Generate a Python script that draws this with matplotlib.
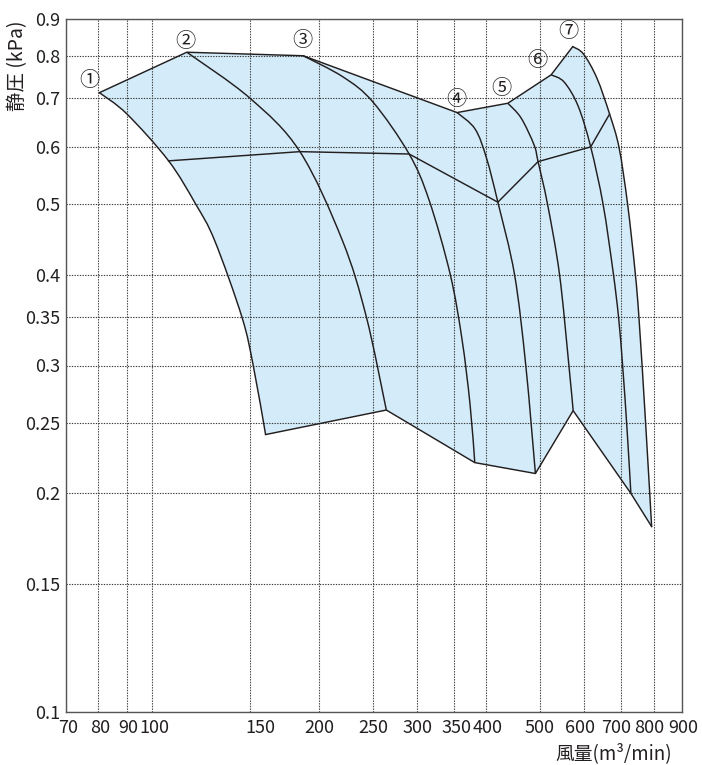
import matplotlib
matplotlib.use("Agg")
import matplotlib.pyplot as plt
import numpy as np
from matplotlib.path import Path
from matplotlib.patches import PathPatch
from matplotlib.ticker import FixedLocator, NullLocator

# fan performance envelope (log-log)
top_x = [80.3, 115.4, 187, 354, 437, 523, 572]
top_y = [0.7125, 0.81, 0.801, 0.669, 0.689, 0.754, 0.8245]
bottom_x = [160, 264, 381, 490, 573, 728, 793.5]
bottom_y = [0.241, 0.2605, 0.2205, 0.213, 0.26, 0.200, 0.18]

# one characteristic curve per fan size, from its top point down to the bottom edge
c1_x = [80.3, 90, 107, 119.8, 129.5, 145, 152, 160]
c1_y = [0.7125, 0.666, 0.574, 0.50, 0.446, 0.35, 0.30, 0.241]
c2_x = [115.4, 150, 184.5, 220, 243, 264]
c2_y = [0.81, 0.70, 0.591, 0.446, 0.35, 0.2605]
c3_x = [187, 220.6, 249.8, 290.2, 315.2, 344, 361.5, 373.7, 381]
c3_y = [0.801, 0.749, 0.6916, 0.5866, 0.5069, 0.401, 0.3253, 0.2647, 0.2205]
c4_x = [354, 381.5, 400, 419.3, 449.4, 470.8, 490]
c4_y = [0.669, 0.635, 0.579, 0.5035, 0.40, 0.30, 0.213]
c5_x = [437, 461.7, 487.3, 495.4, 515.3, 541.6, 563, 573]
c5_y = [0.689, 0.6576, 0.6036, 0.5726, 0.50, 0.40, 0.30, 0.26]
c6_x = [523, 551.9, 584.9, 616.2, 648.8, 676.3, 691.9, 703.5, 716.7, 728]
c6_y = [0.754, 0.737, 0.683, 0.60, 0.50, 0.4036, 0.349, 0.30, 0.2445, 0.200]
c7_x = [572, 597.9, 632.2, 666.5, 693.4, 718.3, 741, 753.3, 773.9, 793.5]
c7_y = [0.8245, 0.8056, 0.7465, 0.6658, 0.598, 0.50, 0.4036, 0.3467, 0.25, 0.18]

mid_x = [107, 184.5, 290.2, 419.3, 495.4, 616.2, 666.5]
mid_y = [0.574, 0.591, 0.5866, 0.5035, 0.5726, 0.60, 0.6658]

labels = ["①", "②", "③", "④", "⑤", "⑥", "⑦"]
label_offsets = [(-10, 12), (-1, 11), (-1, 15), (-1, 13), (-6, 15), (-14, 14), (-4, 15)]

xticks = [70, 80, 90, 100, 150, 200, 250, 300, 350, 400, 500, 600, 700, 800, 900]
xtick_shift = [2, 2, 1, 2, 10, 0, 0, 0, 2, 1, -1, -4, -5, -4, 1]
yticks = [0.1, 0.15, 0.2, 0.25, 0.3, 0.35, 0.4, 0.5, 0.6, 0.7, 0.8, 0.9]


def smooth(xs, ys):
    # curve through the read points (Catmull-Rom as cubic Bezier, in log space)
    p = np.column_stack([np.log10(xs), np.log10(ys)])
    n = len(p)
    verts, codes = [p[0]], [Path.MOVETO]
    for i in range(n - 1):
        p0, p1 = p[max(i - 1, 0)], p[i]
        p2, p3 = p[i + 1], p[min(i + 2, n - 1)]
        verts += [p1 + (p2 - p0) / 6, p2 - (p3 - p1) / 6, p2]
        codes += [Path.CURVE4] * 3
    return list(10 ** np.array(verts)), codes


plt.rcParams["font.family"] = ["Noto Sans CJK JP", "DejaVu Sans"]

W, H = 702, 765
fig = plt.figure(figsize=(W / 100, H / 100), dpi=100)
ax = fig.add_axes([66.3 / W, 1 - 712 / H, (682 - 66.3) / W, (712 - 19) / H])
ax.set_xscale("log")
ax.set_yscale("log")
ax.set_xlim(70, 900)
ax.set_ylim(0.1, 0.9)

line_col = "#231f20"
lw = 1.05

# shaded envelope: top edge, curve 7, bottom edge, curve 1 back up
verts = list(zip(top_x, top_y))
codes = [Path.MOVETO] + [Path.LINETO] * (len(top_x) - 1)
v7, k7 = smooth(c7_x, c7_y)
verts += v7[1:]
codes += k7[1:]
verts += list(zip(bottom_x[::-1][1:], bottom_y[::-1][1:]))
codes += [Path.LINETO] * (len(bottom_x) - 1)
v1, k1 = smooth(c1_x[::-1], c1_y[::-1])
verts += v1[1:]
codes += k1[1:]
verts.append(verts[0])
codes.append(Path.CLOSEPOLY)
ax.add_patch(PathPatch(Path(verts, codes), facecolor="#d4ecf9", lw=0, zorder=1))

ax.plot(top_x, top_y, color=line_col, lw=lw, zorder=3)
ax.plot(bottom_x, bottom_y, color=line_col, lw=lw, zorder=3)
for cx, cy in [(c1_x, c1_y), (c2_x, c2_y), (c3_x, c3_y), (c4_x, c4_y),
               (c5_x, c5_y), (c6_x, c6_y), (c7_x, c7_y)]:
    v, k = smooth(cx, cy)
    ax.add_patch(PathPatch(Path(v, k), fill=False, edgecolor=line_col, lw=lw, zorder=3))
ax.plot(mid_x, mid_y, color=line_col, lw=lw, zorder=3)

for lab, x, y, off in zip(labels, top_x, top_y, label_offsets):
    ax.annotate(lab, (x, y), xytext=off, textcoords="offset pixels",
                ha="center", va="center", fontsize=14.5, color=line_col, zorder=4)

# x tick labels placed by hand (some are nudged in the original)
ax.xaxis.set_major_locator(FixedLocator(xticks))
ax.xaxis.set_minor_locator(NullLocator())
ax.set_xticklabels([])
for t, dx in zip(xticks, xtick_shift):
    ax.annotate(str(t), (t, 0), xycoords=("data", "axes fraction"),
                xytext=(dx, -7), textcoords="offset pixels",
                ha="center", va="top", fontsize=13, color=line_col)

ax.yaxis.set_major_locator(FixedLocator(yticks))
ax.yaxis.set_minor_locator(NullLocator())
ax.set_yticklabels([f"{t:g}" for t in yticks])

ax.grid(True, which="major", ls=(0, (1.2, 1.2)), color="#3a3a3a", lw=0.8, zorder=2)
ax.set_axisbelow(False)
ax.tick_params(length=0, labelsize=13, colors=line_col)
ax.tick_params(axis="y", pad=4)
for s in ax.spines.values():
    s.set_color("#555555")
    s.set_linewidth(1.0)
    s.set_zorder(5)

fig.text(18 / W, 1 - 66 / H, "静圧 (kPa)", rotation=90, ha="center", va="center",
         fontsize=14, color=line_col)
fig.text(672 / W, 1 - 754 / H, "風量(m³/min)", ha="right", va="center",
         fontsize=13.5, color=line_col)

fig.savefig("out.png", dpi=100)
